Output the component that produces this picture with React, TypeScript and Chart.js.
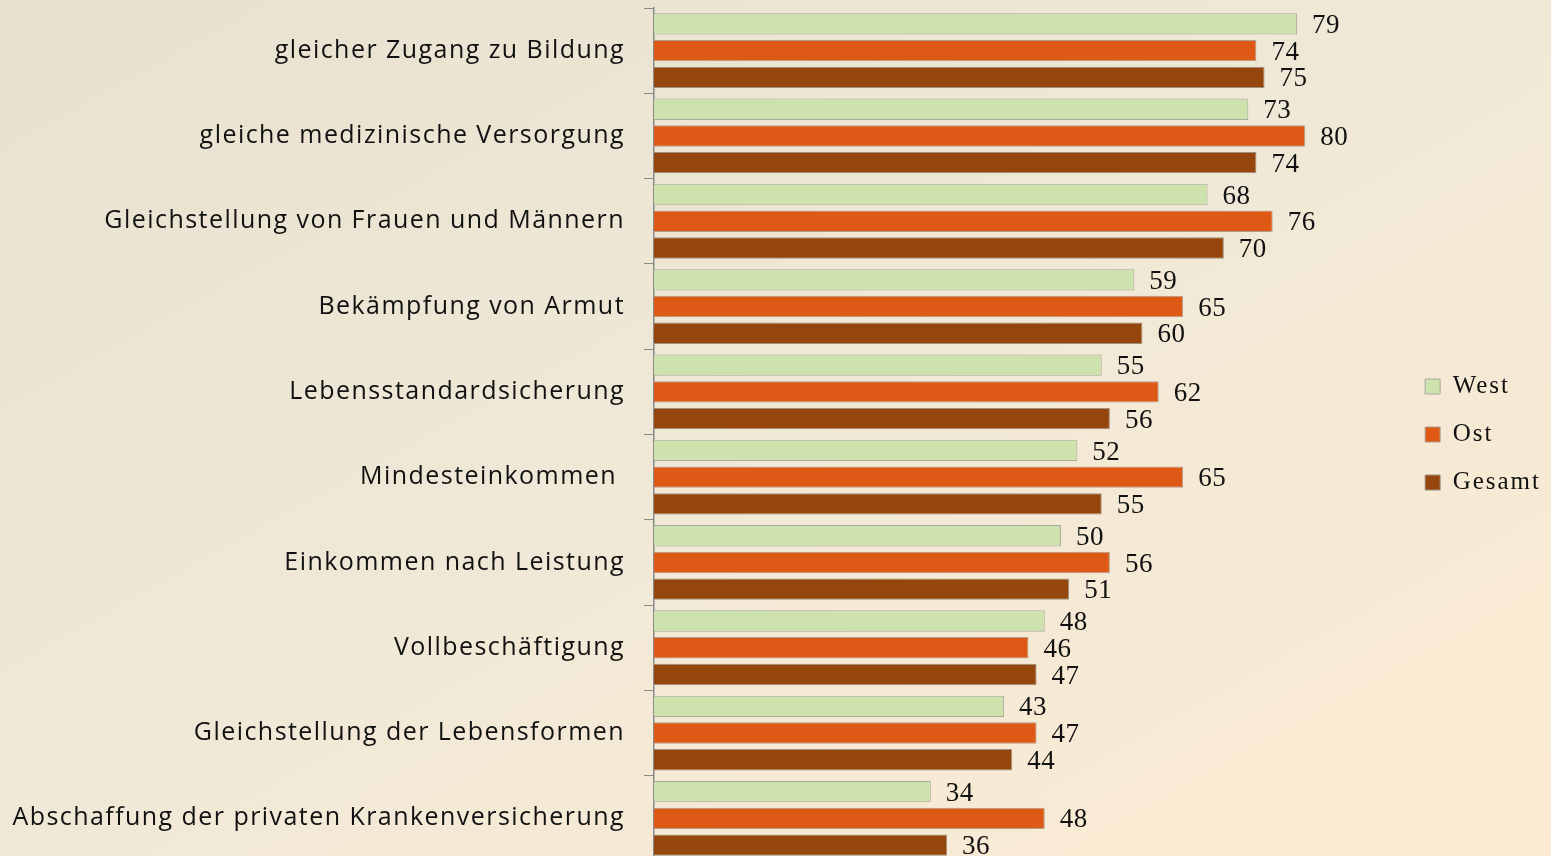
import React, { useEffect, useRef } from "react";
import { Chart, registerables } from "chart.js";

Chart.register(...registerables);

const categories = [
  "gleicher Zugang zu Bildung",
  "gleiche medizinische Versorgung",
  "Gleichstellung von Frauen und Männern",
  "Bekämpfung von Armut",
  "Lebensstandardsicherung",
  "Mindesteinkommen ",
  "Einkommen nach Leistung",
  "Vollbeschäftigung",
  "Gleichstellung der Lebensformen",
  "Abschaffung der privaten Krankenversicherung",
];
const westValues = [79, 73, 68, 59, 55, 52, 50, 48, 43, 34];
const ostValues = [74, 80, 76, 65, 62, 65, 56, 46, 47, 48];
const gesamtValues = [75, 74, 70, 60, 56, 55, 51, 47, 44, 36];
const seriesNames = ["West", "Ost", "Gesamt"];

const spacingPlugin = {
  id: "spacing",
  beforeDraw(chart: any) {
    chart.ctx.letterSpacing = "2px";
  },
  afterDatasetsDraw(chart: any) {
    const ctx = chart.ctx;
    ctx.save();
    ctx.letterSpacing = "0.5px";
    ctx.font = "27px 'Liberation Serif', 'Times New Roman', serif";
    ctx.fillStyle = "#111";
    ctx.textAlign = "left";
    ctx.textBaseline = "middle";
    chart.data.datasets.forEach((ds: any, di: number) => {
      const meta = chart.getDatasetMeta(di);
      meta.data.forEach((bar: any, i: number) => {
        ctx.fillText(String(ds.data[i]), bar.x + 15, bar.y + 2);
      });
    });
    ctx.restore();
    ctx.letterSpacing = "1.45px";
  },
  afterDraw(chart: any) {
    chart.ctx.letterSpacing = "0px";
  },
};

export default function App() {
  const ref = useRef<HTMLCanvasElement | null>(null);
  useEffect(() => {
    document.body.style.margin = "0";
    const chart = new Chart(ref.current!, {
      type: "bar",
      data: {
        labels: categories,
        datasets: [
          { label: seriesNames[0], data: westValues, backgroundColor: "#cde2ad", borderColor: "#a9a9a0", borderWidth: 1 },
          { label: seriesNames[1], data: ostValues, backgroundColor: "#dd5915", borderColor: "#b0a090", borderWidth: 1 },
          { label: seriesNames[2], data: gesamtValues, backgroundColor: "#94460c", borderColor: "#a09080", borderWidth: 1 },
        ],
      },
      options: {
        indexAxis: "y",
        animation: false,
        responsive: false,
        maintainAspectRatio: false,
        layout: { padding: { top: 8, bottom: 3, left: 0, right: 12 } },
        datasets: { bar: { categoryPercentage: 0.94, barPercentage: 0.8 } },
        scales: {
          x: {
            min: 0,
            max: 91.9,
            display: false,
          },
          y: {
            afterFit: (scale: any) => {
              scale.width = 654;
              scale.paddingTop = 0;
              scale.paddingBottom = 0;
            },
            grid: {
              offset: true,
              drawOnChartArea: false,
              drawTicks: true,
              tickLength: 10,
              color: "#8a8a8a",
            },
            border: { display: true, color: "#8a8a8a", width: 1.5 },
            ticks: {
              z: 1,
              padding: 19,
              color: "#111",
              font: { family: "'Open Sans', sans-serif", size: 25 },
            },
          },
        },
        plugins: {
          legend: {
            position: "right",
            align: "center",
            labels: {
              boxWidth: 15,
              boxHeight: 15,
              padding: 23,
              color: "#111",
              font: { family: "'Liberation Serif', 'Times New Roman', serif", size: 25 },
            },
          },
          tooltip: { enabled: false },
        },
      },
      plugins: [spacingPlugin],
    });
    return () => chart.destroy();
  }, []);
  return (
    <div
      style={{
        position: "relative",
        width: 1551,
        height: 856,
        overflow: "hidden",
        background: "linear-gradient(to bottom right, #e8e1d0 0%, #efe8d7 45%, #fdecd3 100%)",
      }}
    >
      <canvas ref={ref} width={1551} height={864} style={{ display: "block", width: 1551, height: 864 }} />
    </div>
  );
}
